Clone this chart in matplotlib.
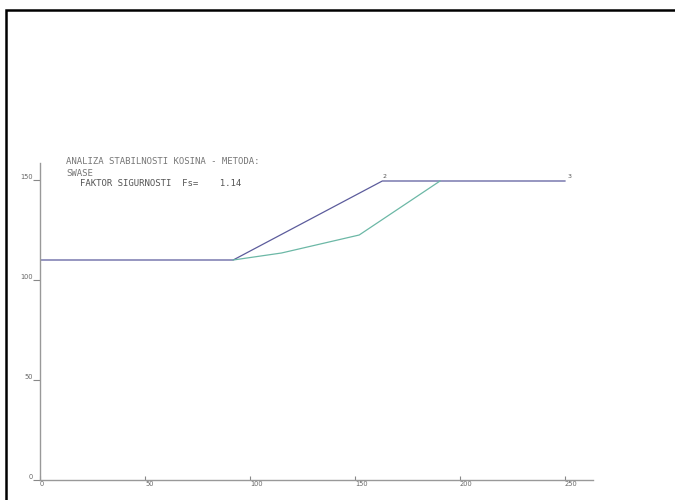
import matplotlib
matplotlib.use('Agg')
import matplotlib.pyplot as plt
from matplotlib.patches import Rectangle

# slope profile (terrain) and critical slip surface
profile_x = [0, 92, 163, 250]
profile_y = [110, 110, 149.5, 149.5]
slip_x = [92, 115, 152, 190.5]
slip_y = [110, 113.5, 122.5, 149.5]
point_labels = ['2', '3']
point_idx = [2, 3]

xticks = [0, 50, 100, 150, 200, 250]
yticks = [0, 50, 100, 150]

title_lines = ['ANALIZA STABILNOSTI KOSINA - METODA:', 'SWASE']
fs_text = 'FAKTOR SIGURNOSTI  Fs=    1.14'

fig = plt.figure(figsize=(6.75, 5), dpi=100)
W, H = 675, 500

# black frame running off the right / bottom edge
fig.patches.append(Rectangle((6 / W, -0.1), 1.2, (H - 10) / H + 0.1,
                             transform=fig.transFigure, fill=False,
                             edgecolor='black', linewidth=1.8))

x0, x1 = 40, 593
ytop = 163
ax = fig.add_axes([x0 / W, 20 / H, (x1 - x0) / W, (480 - ytop) / H])
ax.set_xlim(0, (x1 - x0) / 2.1)
ax.set_ylim(0, (480 - ytop) / 2.0)
ax.patch.set_alpha(0)

for s in ['top', 'right']:
    ax.spines[s].set_visible(False)
for s in ['left', 'bottom']:
    ax.spines[s].set_color('#999999')
    ax.spines[s].set_linewidth(1.0)

ax.set_xticks(xticks)
ax.set_xticklabels([str(t) for t in xticks])
ax.set_yticks(yticks)
ax.set_yticklabels([str(t) for t in yticks])
ax.tick_params(axis='x', direction='in', length=3, width=0.8, color='#888888',
               labelsize=4.8, labelcolor='#666666', pad=1)
ax.tick_params(axis='y', direction='out', length=5, width=0.8, color='#888888',
               labelsize=4.8, labelcolor='#666666', pad=0)
for lab in ax.get_xticklabels():
    lab.set_horizontalalignment('left')
for lab in ax.get_yticklabels():
    lab.set_verticalalignment('bottom')

ax.plot(profile_x, profile_y, color='#5c5c9c', linewidth=0.9)
ax.plot(slip_x, slip_y, color='#6cb8a6', linewidth=0.9)

for lab, i in zip(point_labels, point_idx):
    ax.text(profile_x[i] + 1, profile_y[i] + 0.8, lab, fontsize=4.5,
            color='#555555', ha='center' if i == 2 else 'left', va='bottom')

mono = 'DejaVu Sans Mono'
ax.text(12.5, 159, title_lines[0], fontsize=6.5, family=mono, color='#777777', ha='left', va='center')
ax.text(12.5, 153.5, title_lines[1], fontsize=6.5, family=mono, color='#777777', ha='left', va='center')
ax.text(19, 148.5, fs_text, fontsize=6.5, family=mono, color='#555555', ha='left', va='center')

fig.savefig('out.png', dpi=100)
